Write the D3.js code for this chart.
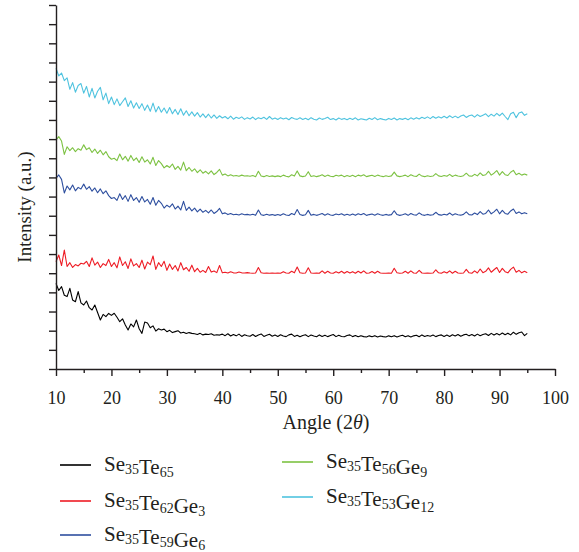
<!DOCTYPE html>
<html>
<head>
<meta charset="utf-8">
<script src="https://cdn.jsdelivr.net/npm/d3@7"></script>
<style>
  body { margin: 0; background: #fff; }
  text { font-family: "Liberation Serif", "DejaVu Serif", serif; fill: #231f20; }
</style>
</head>
<body>
<div class="canvas"></div>
<script>
// angle grid (2theta), 0.5 degree steps from 10 to 95
const angleStart = 10;
const angleStep = 0.5;

// intensities as plotted (stacked, arbitrary units)
const se35te65 = [
  4.47, 4.10, 4.30, 3.85, 3.78, 4.21, 3.60, 3.51, 4.04, 3.45,
  3.34, 3.55, 3.20, 3.08, 3.34, 2.95, 2.56, 2.85, 2.73, 2.90,
  2.80, 2.91, 2.70, 2.47, 2.62, 2.30, 2.04, 2.35, 2.20, 2.56,
  2.10, 1.86, 2.45, 2.40, 2.15, 2.25, 1.98, 2.10, 2.04, 2.08,
  1.95, 2.02, 1.90, 1.95, 2.00, 1.88, 1.92, 1.85, 1.90, 1.86,
  1.84, 1.80, 1.86, 1.78, 1.82, 1.80, 1.84, 1.76, 1.79, 1.77,
  1.82, 1.74, 1.84, 1.72, 1.80, 1.73, 1.82, 1.70, 1.79, 1.74,
  1.71, 1.80, 1.70, 1.78, 1.83, 1.70, 1.76, 1.81, 1.71, 1.77,
  1.70, 1.79, 1.72, 1.69, 1.78, 1.82, 1.70, 1.76, 1.68, 1.75,
  1.79, 1.69, 1.77, 1.72, 1.68, 1.78, 1.70, 1.76, 1.69, 1.75,
  1.80, 1.69, 1.76, 1.70, 1.68, 1.75, 1.78, 1.69, 1.75, 1.68,
  1.74, 1.69, 1.67, 1.73, 1.68, 1.74, 1.67, 1.72, 1.69, 1.67,
  1.73, 1.68, 1.74, 1.67, 1.72, 1.76, 1.68, 1.74, 1.67, 1.73,
  1.76, 1.68, 1.78, 1.70, 1.75, 1.71, 1.77, 1.69, 1.75, 1.78,
  1.70, 1.77, 1.70, 1.79, 1.72, 1.80, 1.71, 1.78, 1.81, 1.73,
  1.80, 1.72, 1.82, 1.74, 1.80, 1.84, 1.75, 1.86, 1.77, 1.85,
  1.78, 1.88, 1.79, 1.87, 1.78, 1.92, 1.81, 1.89, 1.93, 1.74,
  1.86
];

const se35te62ge3 = [
  5.60, 5.95, 5.40, 6.21, 5.35, 5.55, 5.30, 5.45, 5.38, 5.52,
  5.48, 5.62, 5.35, 5.80, 5.42, 5.58, 5.30, 5.50, 5.40, 5.72,
  5.35, 5.55, 5.28, 5.85, 5.40, 5.60, 5.25, 5.75, 5.38, 5.50,
  5.30, 5.68, 5.22, 5.58, 5.45, 5.90, 5.20, 5.55, 5.35, 5.62,
  5.15, 5.48, 5.20, 5.40, 5.12, 5.55, 5.18, 5.30, 5.10, 5.42,
  5.08, 5.25, 5.05, 5.15, 5.04, 5.35, 5.06, 5.12, 5.03, 5.40,
  5.02, 5.05, 5.01, 5.08, 5.02, 5.01, 5.06, 5.02, 5.01, 5.03,
  5.01, 5.00, 5.01, 5.30, 5.02, 5.00, 5.01, 5.00, 5.01, 5.00,
  5.01, 5.00, 5.08, 5.01, 5.00, 5.10, 5.02, 5.32, 5.02, 5.00,
  5.01, 5.28, 5.01, 5.00, 5.01, 5.00, 5.12, 5.00, 5.10, 5.01,
  5.00, 5.08, 5.01, 5.10, 5.00, 5.09, 5.01, 5.08, 5.00, 5.10,
  5.01, 5.12, 5.00, 5.01, 5.09, 5.00, 5.10, 5.01, 5.00, 5.00,
  5.01, 5.00, 5.26, 5.02, 5.00, 5.01, 5.10, 5.00, 5.12, 5.01,
  5.00, 5.15, 5.01, 5.00, 5.01, 5.00, 5.01, 5.18, 5.02, 5.00,
  5.08, 5.01, 5.12, 5.00, 5.10, 5.01, 5.00, 5.01, 5.20, 5.02,
  5.00, 5.12, 5.01, 5.22, 5.03, 5.10, 5.28, 5.05, 5.18, 5.30,
  5.04, 5.25, 5.08, 5.02, 5.20, 5.32, 5.05, 5.15, 5.02, 5.10,
  5.03
];

const se35te59ge6 = [
  9.95, 10.13, 9.90, 9.19, 9.55, 9.35, 9.60, 9.30, 9.48, 9.40,
  9.65, 9.38, 9.52, 9.28, 9.45, 9.20, 9.40, 9.15, 9.30, 9.05,
  8.90, 8.95, 8.80, 9.15, 8.85, 9.05, 8.75, 9.10, 8.80, 8.95,
  8.70, 9.00, 8.72, 8.85, 8.60, 8.95, 8.55, 8.80, 8.65, 8.40,
  8.55, 8.45, 8.62, 8.35, 8.50, 8.30, 8.75, 8.28, 8.45, 8.25,
  8.40, 8.20, 8.35, 8.18, 8.28, 8.15, 8.30, 8.12, 8.22, 8.38,
  8.10, 8.15, 8.06, 8.12, 8.05, 8.08, 8.04, 8.10, 8.05, 8.07,
  8.04, 8.08, 8.02, 8.30, 8.05, 8.02, 8.08, 8.03, 8.06, 8.02,
  8.06, 8.02, 8.10, 8.04, 8.01, 8.12, 8.05, 8.32, 8.06, 8.02,
  8.05, 8.28, 8.03, 8.07, 8.02, 8.06, 8.12, 8.03, 8.10, 8.04,
  8.02, 8.09, 8.05, 8.10, 8.02, 8.08, 8.03, 8.09, 8.02, 8.10,
  8.05, 8.12, 8.02, 8.06, 8.09, 8.03, 8.10, 8.05, 8.02, 8.07,
  8.03, 8.06, 8.26, 8.06, 8.02, 8.05, 8.10, 8.02, 8.12, 8.05,
  8.03, 8.15, 8.05, 8.02, 8.07, 8.03, 8.05, 8.18, 8.06, 8.03,
  8.08, 8.04, 8.14, 8.03, 8.10, 8.05, 8.03, 8.07, 8.20, 8.06,
  8.04, 8.14, 8.06, 8.22, 8.08, 8.12, 8.30, 8.10, 8.20, 8.34,
  8.10, 8.28, 8.12, 8.08, 8.25, 8.35, 8.12, 8.20, 8.10, 8.16,
  8.10
];

const se35te56ge9 = [
  11.95, 12.13, 11.90, 11.20, 11.60, 11.40, 11.55, 11.35, 11.50, 11.42,
  11.70, 11.45, 11.55, 11.30, 11.48, 11.25, 11.42, 11.18, 11.35, 11.08,
  10.95, 11.00, 10.88, 11.22, 10.92, 11.10, 10.85, 11.15, 10.88, 11.02,
  10.78, 11.08, 10.80, 10.92, 10.70, 11.05, 10.62, 10.88, 10.72, 10.50,
  10.62, 10.52, 10.70, 10.42, 10.58, 10.38, 10.80, 10.35, 10.52, 10.32,
  10.45, 10.25, 10.40, 10.22, 10.32, 10.18, 10.34, 10.15, 10.26, 10.42,
  10.12, 10.18, 10.08, 10.14, 10.07, 10.10, 10.06, 10.12, 10.07, 10.09,
  10.06, 10.10, 10.04, 10.32, 10.07, 10.04, 10.10, 10.05, 10.08, 10.04,
  10.08, 10.04, 10.12, 10.06, 10.03, 10.14, 10.07, 10.34, 10.08, 10.04,
  10.07, 10.30, 10.05, 10.09, 10.04, 10.08, 10.14, 10.05, 10.12, 10.06,
  10.04, 10.11, 10.07, 10.12, 10.04, 10.10, 10.05, 10.11, 10.04, 10.12,
  10.07, 10.14, 10.04, 10.08, 10.11, 10.05, 10.12, 10.07, 10.04, 10.09,
  10.05, 10.08, 10.28, 10.08, 10.04, 10.07, 10.12, 10.04, 10.14, 10.07,
  10.05, 10.17, 10.07, 10.04, 10.09, 10.05, 10.07, 10.20, 10.08, 10.05,
  10.10, 10.06, 10.16, 10.05, 10.12, 10.07, 10.05, 10.09, 10.22, 10.08,
  10.06, 10.16, 10.08, 10.24, 10.10, 10.14, 10.32, 10.12, 10.22, 10.36,
  10.12, 10.30, 10.14, 10.10, 10.27, 10.37, 10.14, 10.22, 10.12, 10.18,
  10.12
];

const se35te53ge12 = [
  15.70, 15.30, 15.45, 15.05, 15.20, 14.60, 14.95, 14.45, 14.80, 14.90,
  14.40, 14.75, 14.20, 14.65, 14.15, 14.50, 14.70, 14.05, 14.40, 13.85,
  14.20, 13.80, 14.10, 13.75, 13.95, 14.15, 13.70, 14.00, 13.62, 13.90,
  13.60, 13.85, 13.50, 13.78, 13.45, 13.88, 13.42, 13.70, 13.40, 13.62,
  13.35, 13.65, 13.32, 13.55, 13.28, 13.58, 13.25, 13.48, 13.22, 13.42,
  13.20, 13.38, 13.15, 13.32, 13.12, 13.30, 13.10, 13.26, 13.08, 13.22,
  13.10, 13.18, 13.06, 13.20, 13.04, 13.14, 13.08, 13.16, 13.03, 13.12,
  13.05, 13.15, 13.02, 13.12, 13.06, 13.14, 13.03, 13.18, 13.04, 13.10,
  13.02, 13.12, 13.05, 13.10, 13.01, 13.13, 13.06, 13.03, 13.11, 13.02,
  13.09, 13.01, 13.12, 13.04, 13.00, 13.10, 13.03, 13.08, 13.14, 13.02,
  13.07, 13.00, 13.10, 13.03, 13.08, 13.01, 13.09, 13.02, 13.11, 13.00,
  13.06, 13.03, 13.00, 13.09, 13.02, 13.12, 13.01, 13.07, 13.03, 13.00,
  13.08, 13.02, 13.10, 13.00, 13.07, 13.03, 13.09, 13.01, 13.11, 13.04,
  13.12, 13.05, 13.14, 13.08, 13.16, 13.07, 13.18, 13.09, 13.17, 13.10,
  13.19, 13.10, 13.22, 13.12, 13.20, 13.11, 13.21, 13.26, 13.13, 13.22,
  13.26, 13.15, 13.28, 13.18, 13.25, 13.32, 13.17, 13.30, 13.20, 13.34,
  13.22, 13.36, 13.18, 13.02, 13.32, 13.40, 13.12, 13.36, 13.42, 13.24,
  13.32
];

const xTicks = [10, 20, 30, 40, 50, 60, 70, 80, 90, 100];
const xMinorTicks = [15, 25, 35, 45, 55, 65, 75, 85, 95];

// legend labels: [base, subscript] pairs
const seriesNames = [
  [['Se', '35'], ['Te', '65']],
  [['Se', '35'], ['Te', '62'], ['Ge', '3']],
  [['Se', '35'], ['Te', '59'], ['Ge', '6']],
  [['Se', '35'], ['Te', '56'], ['Ge', '9']],
  [['Se', '35'], ['Te', '53'], ['Ge', '12']]
];
const seriesColors = ['#000000', '#ee1c25', '#2e4f9f', '#7dc243', '#4fc3df'];
const seriesValues = [se35te65, se35te62ge3, se35te59ge6, se35te56ge9, se35te53ge12];

const dims = { width: 579, height: 552 };
const plot = { left: 56, right: 555, top: 5, bottom: 369 };

const svg = d3
  .select('.canvas')
  .append('svg')
  .attr('width', dims.width)
  .attr('height', dims.height);

const x = d3.scaleLinear().domain([10, 100]).range([plot.left, plot.right]);
const y = d3.scaleLinear().domain([0, 19]).range([plot.bottom, plot.top]);

// data lines
const line = d3
  .line()
  .x((d, i) => x(angleStart + i * angleStep))
  .y((d) => y(d));

svg
  .append('g')
  .selectAll('path')
  .data(seriesValues)
  .enter()
  .append('path')
  .attr('d', line)
  .attr('fill', 'none')
  .attr('stroke', (d, i) => seriesColors[i])
  .attr('stroke-width', 1.1)
  .attr('stroke-linejoin', 'round');

// y axis - ticks only, no labels
svg
  .append('g')
  .attr('transform', `translate(${plot.left}, 0)`)
  .call(d3.axisLeft(y).tickValues(d3.range(0, 20)).tickSize(7).tickSizeOuter(0).tickFormat(''));

// x axis minor ticks
svg
  .append('g')
  .attr('transform', `translate(0, ${plot.bottom})`)
  .call(d3.axisBottom(x).tickValues(xMinorTicks).tickSize(4).tickSizeOuter(0).tickFormat(''))
  .select('.domain')
  .remove();

// x axis major ticks + labels
const xAxis = svg
  .append('g')
  .attr('transform', `translate(0, ${plot.bottom})`)
  .call(d3.axisBottom(x).tickValues(xTicks).tickSize(7).tickSizeOuter(0).tickPadding(15));

svg.selectAll('.domain, .tick line').attr('stroke', '#231f20').attr('stroke-width', 1.4);
xAxis.selectAll('text').attr('font-size', 18).attr('font-family', '"Liberation Serif", serif').attr('fill', '#231f20');

// axis titles
const xTitle = svg
  .append('text')
  .attr('x', 326)
  .attr('y', 429)
  .attr('text-anchor', 'middle')
  .attr('font-size', 20);
xTitle.append('tspan').text('Angle (2');
xTitle.append('tspan').attr('font-style', 'italic').text('θ');
xTitle.append('tspan').text(')');

svg
  .append('text')
  .attr('transform', 'translate(31, 207) rotate(-90)')
  .attr('text-anchor', 'middle')
  .attr('font-size', 19)
  .text('Intensity (a.u.)');

// legend
const legendPos = [
  { x: 60, y: 465 },
  { x: 60, y: 501 },
  { x: 60, y: 535 },
  { x: 282, y: 462 },
  { x: 282, y: 497 }
];

const legend = svg
  .append('g')
  .selectAll('g')
  .data(seriesNames)
  .enter()
  .append('g')
  .attr('transform', (d, i) => `translate(${legendPos[i].x}, ${legendPos[i].y})`);

legend
  .append('line')
  .attr('x1', 0)
  .attr('x2', 31)
  .attr('stroke', (d, i) => seriesColors[i])
  .attr('stroke-width', 1.6);

legend.each(function (parts) {
  const t = d3.select(this).append('text').attr('x', 44).attr('y', 6).attr('font-size', 21);
  parts.forEach((p) => {
    t.append('tspan').text(p[0]);
    t.append('tspan').attr('font-size', 14).attr('dy', 3).text(p[1]);
    t.append('tspan').attr('dy', -3).text('');
  });
});
</script>
</body>
</html>
